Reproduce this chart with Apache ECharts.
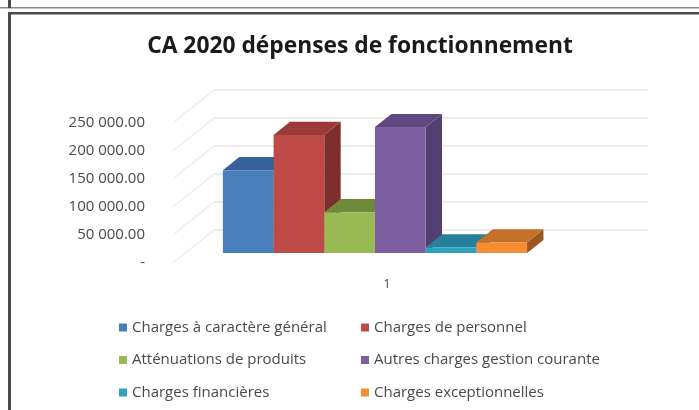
<!DOCTYPE html>
<html>
<head>
<meta charset="utf-8">
<style>html,body{margin:0;padding:0;background:#fff}#c{width:699px;height:410px}</style>
<script src="https://cdn.jsdelivr.net/npm/echarts@6/dist/echarts.min.js"></script>
</head>
<body>
<div id="c"></div>
<script>
const categories = ['1'];
const seriesNames = ['Charges à caractère général','Charges de personnel','Atténuations de produits','Autres charges gestion courante','Charges financières','Charges exceptionnelles'];
const seriesValues = [148000, 211000, 73000, 225000, 10000, 19000];
const frontColors = ['#4a7ebb','#be4b48','#98b954','#7d5fa0','#2ea3bd','#f68d33'];
const topColors   = ['#38609c','#9b3a38','#6f8a3a','#5f4880','#26809b','#c4702a'];
const sideColors  = ['#2c4c7c','#7e2e2d','#5c7430','#533f70','#1f6880','#9a5820'];
const yTicks = [0, 50000, 100000, 150000, 200000, 250000];
const yTickLabels = ['-', '50 000.00', '100 000.00', '150 000.00', '200 000.00', '250 000.00'];
const titleText = 'CA 2020 dépenses de fonctionnement';

const WALL_DX = 41, WALL_DY = -33;
const NEAR = 0.3, BAR_DEPTH = 0.4;
const BAR_START = 0.0866, BAR_WIDTH = 0.1168;

function wallItem(params, api) {
  const cs = params.coordSys;
  const y = api.coord([0, api.value(0)])[1];
  const x0 = cs.x, x1 = cs.x + WALL_DX, x2 = cs.x + cs.width + WALL_DX, y1 = y + WALL_DY;
  return { type: 'group', silent: true, children: [
    { type: 'line', shape: { x1: x0, y1: y, x2: x1, y2: y1 }, style: { stroke: '#ededed', lineWidth: 1.5 } },
    { type: 'line', shape: { x1: x1, y1: y1, x2: x2, y2: y1 }, style: { stroke: '#e6e6e6', lineWidth: 1.5 } }
  ]};
}
function barItem(i) {
  return function (params, api) {
    const cs = params.coordSys;
    const w = cs.width * BAR_WIDTH;
    const ox = WALL_DX * NEAR, oy = WALL_DY * NEAR;
    const dx = WALL_DX * BAR_DEPTH, dy = WALL_DY * BAR_DEPTH;
    const l = cs.x + cs.width * BAR_START + i * w + ox;
    const r = l + w;
    const b = api.coord([0, 0])[1] + oy;
    const t = api.coord([0, api.value(1)])[1] + oy;
    const poly = (pts, fill) => ({ type: 'polygon', shape: { points: pts }, style: { fill: fill } });
    return { type: 'group', children: [
      poly([[r, b],[r + dx, b + dy],[r + dx, t + dy],[r, t]], sideColors[i]),
      poly([[l, t],[r, t],[r + dx, t + dy],[l + dx, t + dy]], topColors[i]),
      poly([[l, b],[r, b],[r, t],[l, t]], frontColors[i])
    ]};
  };
}
const legendBase = { orient: 'vertical', icon: 'rect', itemWidth: 8, itemHeight: 8, itemGap: 17.5,
  textStyle: { fontFamily: 'Open Sans', fontSize: 15, color: '#4a4a4a' }, selectedMode: false };

const chart = echarts.init(document.getElementById('c'), null, { renderer: 'canvas' });
chart.setOption({
  animation: false,
  backgroundColor: '#fff',
  color: frontColors,
  title: { text: titleText, left: 355, top: 30, textAlign: 'center',
    textStyle: { fontFamily: 'Open Sans', fontWeight: 'bold', fontSize: 22.8, color: '#1a1a1a' } },
  grid: { left: 173, top: 123, width: 434, height: 140 },
  xAxis: { type: 'category', data: categories, axisLine: { show: false }, axisTick: { show: false },
    axisLabel: { margin: 15, fontFamily: 'Open Sans', fontSize: 13, color: '#4a4a4a', padding: [0, 6, 0, 0] } },
  yAxis: { type: 'value', min: 0, max: 250000, interval: 50000, axisLine: { show: false }, axisTick: { show: false },
    splitLine: { show: false },
    axisLabel: { margin: 28, fontFamily: 'Open Sans', fontSize: 15, color: '#4a4a4a', padding: [3, 0, 0, 0],
      formatter: v => yTickLabels[yTicks.indexOf(v)] } },
  legend: [
    Object.assign({}, legendBase, { left: 114, top: 315, data: [seriesNames[0], seriesNames[2], seriesNames[4]] }),
    Object.assign({}, legendBase, { left: 356, top: 315, data: [seriesNames[1], seriesNames[3], seriesNames[5]] })
  ],
  graphic: [
    { type: 'rect', shape: { x: 0, y: 7, width: 699, height: 1.5 }, style: { fill: '#8a8a8a' }, silent: true },
    { type: 'rect', shape: { x: 8, y: 12, width: 691, height: 2.5 }, style: { fill: '#4a4a4a' }, silent: true },
    { type: 'rect', shape: { x: 8, y: 12, width: 3, height: 398 }, style: { fill: '#4a4a4a' }, silent: true },
    { type: 'rect', shape: { x: 8, y: 0, width: 3, height: 8 }, style: { fill: '#4a4a4a' }, silent: true }
  ],
  series: [
    { type: 'custom', name: 'walls', z: 1, renderItem: wallItem, data: yTicks.map(v => [v]), encode: { y: 0 }, silent: true, coordinateSystem: 'cartesian2d' }
  ].concat(seriesNames.map((name, i) => ({
    type: 'custom', name: name, z: 2 + i, coordinateSystem: 'cartesian2d',
    renderItem: barItem(i), itemStyle: { color: frontColors[i] },
    encode: { x: 0, y: 1 }, data: [[0, seriesValues[i]]]
  })))
});
</script>
</body>
</html>
